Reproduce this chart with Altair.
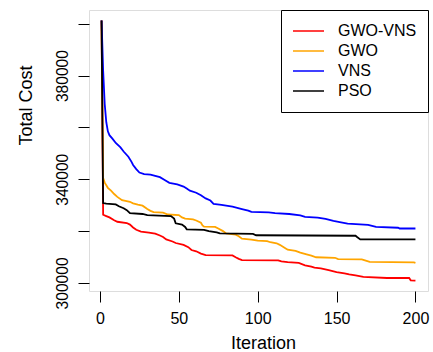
import altair as alt
import pandas as pd

# ---- data ----
series_names = ["GWO-VNS", "GWO", "VNS", "PSO"]
series_colors = ["#FF0000", "#FFA500", "#0000FF", "#000000"]

gwo_vns_iter = [1, 2, 4, 6, 9, 11, 17, 19, 21, 23, 26, 31, 35, 38, 40, 42, 46, 48, 53, 56, 58, 61, 64, 67,
                84, 86, 88, 90, 113, 115, 119, 126, 130, 134, 136, 140, 145, 150, 155, 158, 162, 167,
                182, 196, 197, 200]
gwo_vns_cost = [401300, 326300, 325800, 325300, 324200, 323600, 323100, 322500, 321400, 320500, 319800,
                319400, 319000, 318300, 317700, 316800, 316000, 315400, 314700, 313800, 312700, 312200,
                311300, 310700, 310600, 309900, 309300, 308800, 308700, 308300, 308000, 307700, 306800,
                306300, 305900, 305600, 304900, 304200, 303700, 303300, 302900, 302300, 301900, 301900,
                301000, 300900]

gwo_iter = [1, 2, 3, 5, 7, 9, 11, 14, 19, 21, 24, 27, 30, 32, 34, 40, 43, 50, 52, 54, 59, 61, 64, 65, 66,
            73, 75, 78, 80, 86, 88, 90, 96, 100, 106, 108, 112, 114, 117, 119, 124, 127, 131, 134, 137,
            149, 151, 166, 169, 171, 199, 200]
gwo_cost = [401300, 340500, 338700, 336700, 335600, 334300, 333200, 331900, 331300, 330700, 330200,
            329800, 328500, 327800, 327300, 327100, 326400, 326200, 325300, 324800, 324500, 324100,
            323200, 322200, 321700, 321600, 321000, 320000, 319100, 318600, 318000, 317100, 316700,
            316300, 316100, 315700, 315300, 314700, 313600, 312800, 312400, 311700, 311000, 310500,
            309900, 309700, 309200, 309100, 308500, 308100, 307900, 307700]

vns_iter = [1, 2, 3, 4, 5, 6, 8, 10, 13, 15, 18, 20, 21, 23, 25, 28, 32, 35, 38, 41, 44, 49, 53, 55, 57,
            61, 64, 67, 70, 72, 77, 84, 90, 94, 96, 107, 111, 120, 127, 130, 138, 143, 148, 152, 157,
            170, 175, 189, 190, 200]
vns_cost = [401300, 382000, 369000, 362000, 358500, 357000, 355600, 354000, 352300, 350700, 348700,
            346700, 345500, 343900, 342600, 342000, 341800, 341300, 340800, 339700, 338600, 338000,
            337200, 336400, 335600, 334800, 333800, 332600, 331800, 330500, 330100, 329400, 328500,
            327900, 327400, 327200, 326900, 326600, 326100, 325500, 325200, 324700, 323900, 323500,
            322900, 322400, 321600, 321300, 321000, 321000]

pso_iter = [1, 2, 4, 10, 12, 15, 17, 19, 27, 30, 45, 47, 48, 52, 54, 55, 66, 69, 74, 76, 97, 99, 162,
            163, 165, 200]
pso_cost = [401300, 330800, 330600, 330300, 329600, 328800, 328100, 326900, 326600, 326200, 325800,
            324800, 323000, 322500, 321600, 320700, 320500, 320000, 319500, 319100, 318900, 318400,
            318200, 317700, 316800, 316800]

x_ticks = [0, 50, 100, 150, 200]
y_ticks = [300000, 320000, 340000, 360000, 380000, 400000]

# ---- table ----
frames = []
for k, (name, its, costs) in enumerate([
        ("GWO-VNS", gwo_vns_iter, gwo_vns_cost),
        ("GWO", gwo_iter, gwo_cost),
        ("VNS", vns_iter, vns_cost),
        ("PSO", pso_iter, pso_cost)]):
    frames.append(pd.DataFrame({"Iteration": its, "Cost": costs, "Algorithm": name, "k": k}))
df = pd.concat(frames, ignore_index=True)

FONT = "Liberation Sans"

chart = alt.Chart(df).mark_line(strokeWidth=1.8, clip=True).encode(
    x=alt.X("Iteration:Q",
            scale=alt.Scale(domain=[-6.96, 207.96], nice=False, zero=False),
            axis=alt.Axis(values=x_ticks, title="Iteration", domain=False, grid=False,
                          tickSize=11, tickColor="black", tickWidth=1,
                          labelFont=FONT, labelFontSize=16, labelColor="black",
                          labelPadding=21, labelBaseline="alphabetic", labelFlush=False,
                          labelOverlap=False,
                          titleFont=FONT, titleFontSize=18, titleFontWeight="normal",
                          titleColor="black", titleX=174, titleY=57,
                          titleBaseline="alphabetic", titleAlign="center")),
    y=alt.Y("Cost:Q",
            scale=alt.Scale(domain=[296884, 405316], nice=False, zero=False),
            axis=alt.Axis(values=y_ticks, title="Total Cost", domain=False, grid=False,
                          format="d",
                          labelExpr="(datum.value - 300000) % 40000 == 0 ? datum.label : ''",
                          tickSize=11, tickColor="black", tickWidth=1,
                          labelFont=FONT, labelFontSize=15.6, labelColor="black",
                          labelAngle=270, labelAlign="center", labelBaseline="alphabetic",
                          labelPadding=11, labelFlush=False, labelOverlap=False,
                          titleFont=FONT, titleFontSize=18, titleFontWeight="normal",
                          titleColor="black", titleAngle=270, titleX=-58, titleY=95,
                          titleBaseline="alphabetic", titleAlign="center")),
    color=alt.Color("Algorithm:N",
                    scale=alt.Scale(domain=series_names, range=series_colors),
                    legend=alt.Legend(title=None, orient="top-right", offset=0,
                                      strokeColor="black", fillColor="white",
                                      padding=11, cornerRadius=0,
                                      symbolType="stroke", symbolSize=961,
                                      symbolStrokeWidth=1.3,
                                      labelFont=FONT, labelFontSize=16, labelColor="black",
                                      labelOffset=13, clipHeight=20, rowPadding=0)),
    order=alt.Order("k:Q"),
    detail="Algorithm:N",
).properties(
    width=339, height=281,
    padding={"left": 89, "top": 10, "right": 5, "bottom": 61},
    autosize=alt.AutoSizeParams(type="none"),
).configure_view(stroke="black", strokeWidth=1).configure(background="white")

chart.save("out.html", embed_options={"renderer": "svg", "actions": False})
